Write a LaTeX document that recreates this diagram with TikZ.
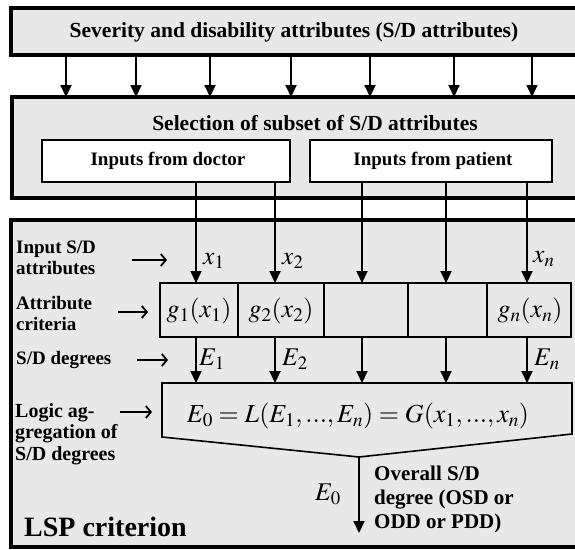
\documentclass[tikz,border=0pt]{standalone}
\usepackage{mathptmx}
\usepackage[no-math]{fontspec}
\setmainfont{Liberation Serif}
\usetikzlibrary{arrows.meta}
\definecolor{boxgray}{RGB}{232,232,232}
\begin{document}
\begin{tikzpicture}[x=1pt,y=-1pt,
  bigbox/.style={draw, line width=4.5pt, fill=boxgray, anchor=north west, inner sep=0pt, outer sep=0pt},
  inbox/.style={draw, line width=1.8pt, fill=white, anchor=north west, inner sep=0pt, outer sep=0pt},
  critbox/.style={draw, line width=1.5pt, anchor=north west, inner sep=0pt, outer sep=0pt, minimum height=54pt},
  arr/.style={line width=2pt, -{Triangle[length=12pt,width=11pt]}},
  barb/.style={line width=1.8pt, -{Straight Barb[length=5pt,width=12pt]}},
  ttl/.style={font=\fontsize{21.5}{24}\selectfont\bfseries},
  inp/.style={font=\fontsize{19}{21}\selectfont\bfseries},
  lbl/.style={font=\fontsize{19}{21}\selectfont\bfseries, align=left, anchor=west, inner sep=0pt},
  mth/.style={font=\fontsize{26}{28}\selectfont, inner sep=0pt},
  xl/.style={font=\fontsize{25.5}{27}\selectfont, inner sep=0pt, anchor=west}
]
\useasboundingbox (0,0) rectangle (575,549);
\clip (0,0) rectangle (575,549);
\fill[white] (0,0) rectangle (575,549);

% top box
\node[bigbox, minimum width=566pt, minimum height=47pt] (sev) at (11,8) {};
\node[ttl] (sevtxt) at (294,32) {Severity and disability attributes (S/D attributes)};

% selection box
\node[bigbox, minimum width=565pt, minimum height=101pt] (sel) at (12,97) {};
\node[ttl] (seltxt) at (315,123) {Selection of subset of S/D attributes};
\node[inbox, minimum width=248pt, minimum height=42pt] (doc) at (42,140) {};
\node[inp] (doctxt) at (168,161) {Inputs from doctor};
\node[inbox, minimum width=242pt, minimum height=42pt] (pat) at (310,140) {};
\node[inp] (pattxt) at (433,161) {Inputs from patient};

% top arrows
\foreach \i/\x in {1/66,2/136,3/210,4/291,5/370,6/454,7/532}{
  \coordinate (t\i) at (\x,0);
  \draw[arr] (sev.south -| t\i) -- (sel.north -| t\i);
}

% LSP box
\node[bigbox, minimum width=566pt, minimum height=327pt] (lsp) at (11,220) {};

% criteria boxes
\node[critbox, minimum width=78pt] (c1) at (160,283) {};
\node[critbox, minimum width=86pt] (c2) at (238,283) {};
\node[critbox, minimum width=84pt] (c3) at (324,283) {};
\node[critbox, minimum width=79pt] (c4) at (408,283) {};
\node[critbox, minimum width=84pt] (c5) at (487,283) {};
\node[mth] (g1) at (199,311) {$g_1(x_1)$};
\node[mth] (g2) at (281,311) {$g_2(x_2)$};
\node[mth] (gn) at (530,311) {$g_n(x_n)$};

% aggregation box
\coordinate (aNW) at (162,383);
\coordinate (aNE) at (572,383);
\coordinate (aSE) at (572,434);
\coordinate (aB) at (359,457);
\coordinate (aSW) at (162,437);
\draw[line width=1.6pt, line join=miter] (aNW) -- (aNE) -- (aSE) -- (aB) -- (aSW) -- cycle;
\node[mth] (eq) at (358,416) {$E_0=L(E_1,...,E_n)=G(x_1,...,x_n)$};

% input lines and E arrows
\foreach \i/\x/\src/\c in {1/196/doc/c1,2/275/doc/c2,3/362/pat/c3,4/446/pat/c4,5/527/pat/c5}{
  \coordinate (l\i) at (\x,0);
  \draw[arr] (\src.south -| l\i) -- (\c.north -| l\i);
  \draw[arr] (\c.south -| l\i) -- (aNW -| l\i);
}

% x labels
\node[xl] (x1) at (203,261) {$x_1$};
\node[xl] (x2) at (282,261) {$x_2$};
\node[xl] (xn) at (533,259) {$x_n$};
% E labels
\node[xl] (e1) at (199,359) {$E_1$};
\node[xl] (e2) at (282,359) {$E_2$};
\node[xl] (en) at (534,359) {$E_n$};

% output
\coordinate (out) at (359,533);
\draw[arr] (aB) -- (out);
\node[xl, anchor=center] (e0) at (328,494) {$E_0$};
\node[lbl, font=\fontsize{21}{24}\selectfont\bfseries] (ovl) at (374,499) {Overall S/D\\degree (OSD or\\ODD or PDD)};

% left labels
\node[lbl] (lab1) at (16,258) {Input S/D\\attributes};
\coordinate (a1s) at (132,260); \coordinate (a1e) at (167,260);
\draw[barb] (a1s) -- (a1e);
\node[lbl] (lab2) at (16,313) {Attribute\\criteria};
\coordinate (a2s) at (118,312); \coordinate (a2e) at (148,312);
\draw[barb] (a2s) -- (a2e);
\node[lbl] (lab3) at (16,360) {S/D degrees};
\coordinate (a3s) at (137,360); \coordinate (a3e) at (168,360);
\draw[barb] (a3s) -- (a3e);
\node[lbl, font=\fontsize{20}{21.5}\selectfont\bfseries] (lab4) at (15,434) {Logic ag-\\gregation of\\S/D degrees};
\coordinate (a4s) at (120,412); \coordinate (a4e) at (152,412);
\draw[barb] (a4s) -- (a4e);

\node[lbl, font=\fontsize{28}{30}\selectfont\bfseries] (lsptxt) at (24,527) {LSP criterion};
\end{tikzpicture}
\end{document}
